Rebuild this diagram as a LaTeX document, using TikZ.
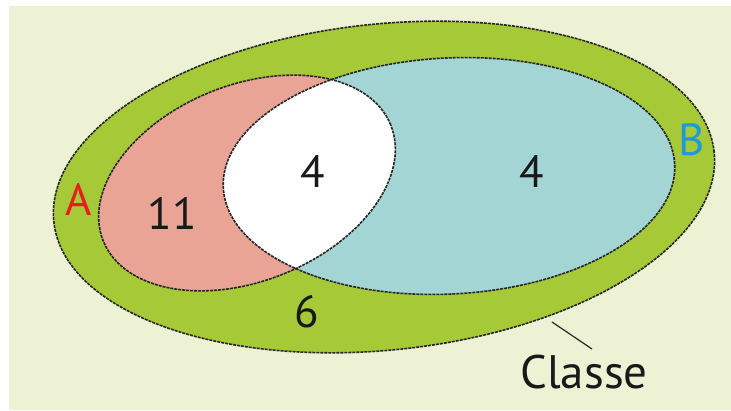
\documentclass[tikz,border=0pt]{standalone}
\usepackage{fontspec}
\setmainfont{PT Sans}
\definecolor{cream}{RGB}{238,242,212}
\definecolor{grass}{RGB}{166,201,56}
\definecolor{salmon}{RGB}{234,164,150}
\definecolor{aqua}{RGB}{162,213,212}
\definecolor{labred}{RGB}{232,30,30}
\definecolor{labblue}{RGB}{30,154,214}
\tikzset{
  rim/.style={draw=black!85, line width=1.6pt, dash pattern=on 3pt off 1pt},
  num/.style={inner sep=0pt, font=\fontsize{45}{45}\selectfont, text=black!90},
}
\begin{document}
\begin{tikzpicture}[x=1pt,y=1pt]
\useasboundingbox (0,0) rectangle (731,410);
\fill[white] (0,0) rectangle (731,410);
\fill[cream] (9,0) rectangle (731,404);
% outer set (Classe)
\coordinate (oc) at (384,223);
\coordinate (ac) at (247,227);
\coordinate (bc) at (449,234);
\fill[grass, rotate around={6:(oc)}] (oc) ellipse [x radius=332, y radius=163];
\draw[rim, rotate around={6:(oc)}] (oc) ellipse [x radius=332, y radius=163];
% A and B
\fill[salmon, rotate around={22:(ac)}] (ac) ellipse [x radius=155, y radius=98];
\fill[aqua, rotate around={3:(bc)}] (bc) ellipse [x radius=226, y radius=118];
\begin{scope}
  \clip[rotate around={22:(ac)}] (ac) ellipse [x radius=155, y radius=98];
  \fill[white, rotate around={3:(bc)}] (bc) ellipse [x radius=226, y radius=118];
\end{scope}
\draw[rim, rotate around={22:(ac)}] (ac) ellipse [x radius=155, y radius=98];
\draw[rim, rotate around={3:(bc)}] (bc) ellipse [x radius=226, y radius=118];
% labels
\node[num, text=labred] (la) at (79,210) {A};
\node[num, text=labblue] (lb) at (692,270) {B};
\node[num] (n11) at (172,197) {11};
\node[num] (n4a) at (313,238) {4};
\node[num] (n4b) at (532,238) {4};
\node[num] (n6) at (307,98) {6};
\node[num, anchor=base, font=\fontsize{47}{47}\selectfont] (classe) at (584,22) {Classe};
\coordinate (cl1) at (552,88);
\coordinate (cl2) at (592,61);
\draw[black!85, line width=1.2pt] (cl1) -- (cl2);
\end{tikzpicture}
\end{document}
